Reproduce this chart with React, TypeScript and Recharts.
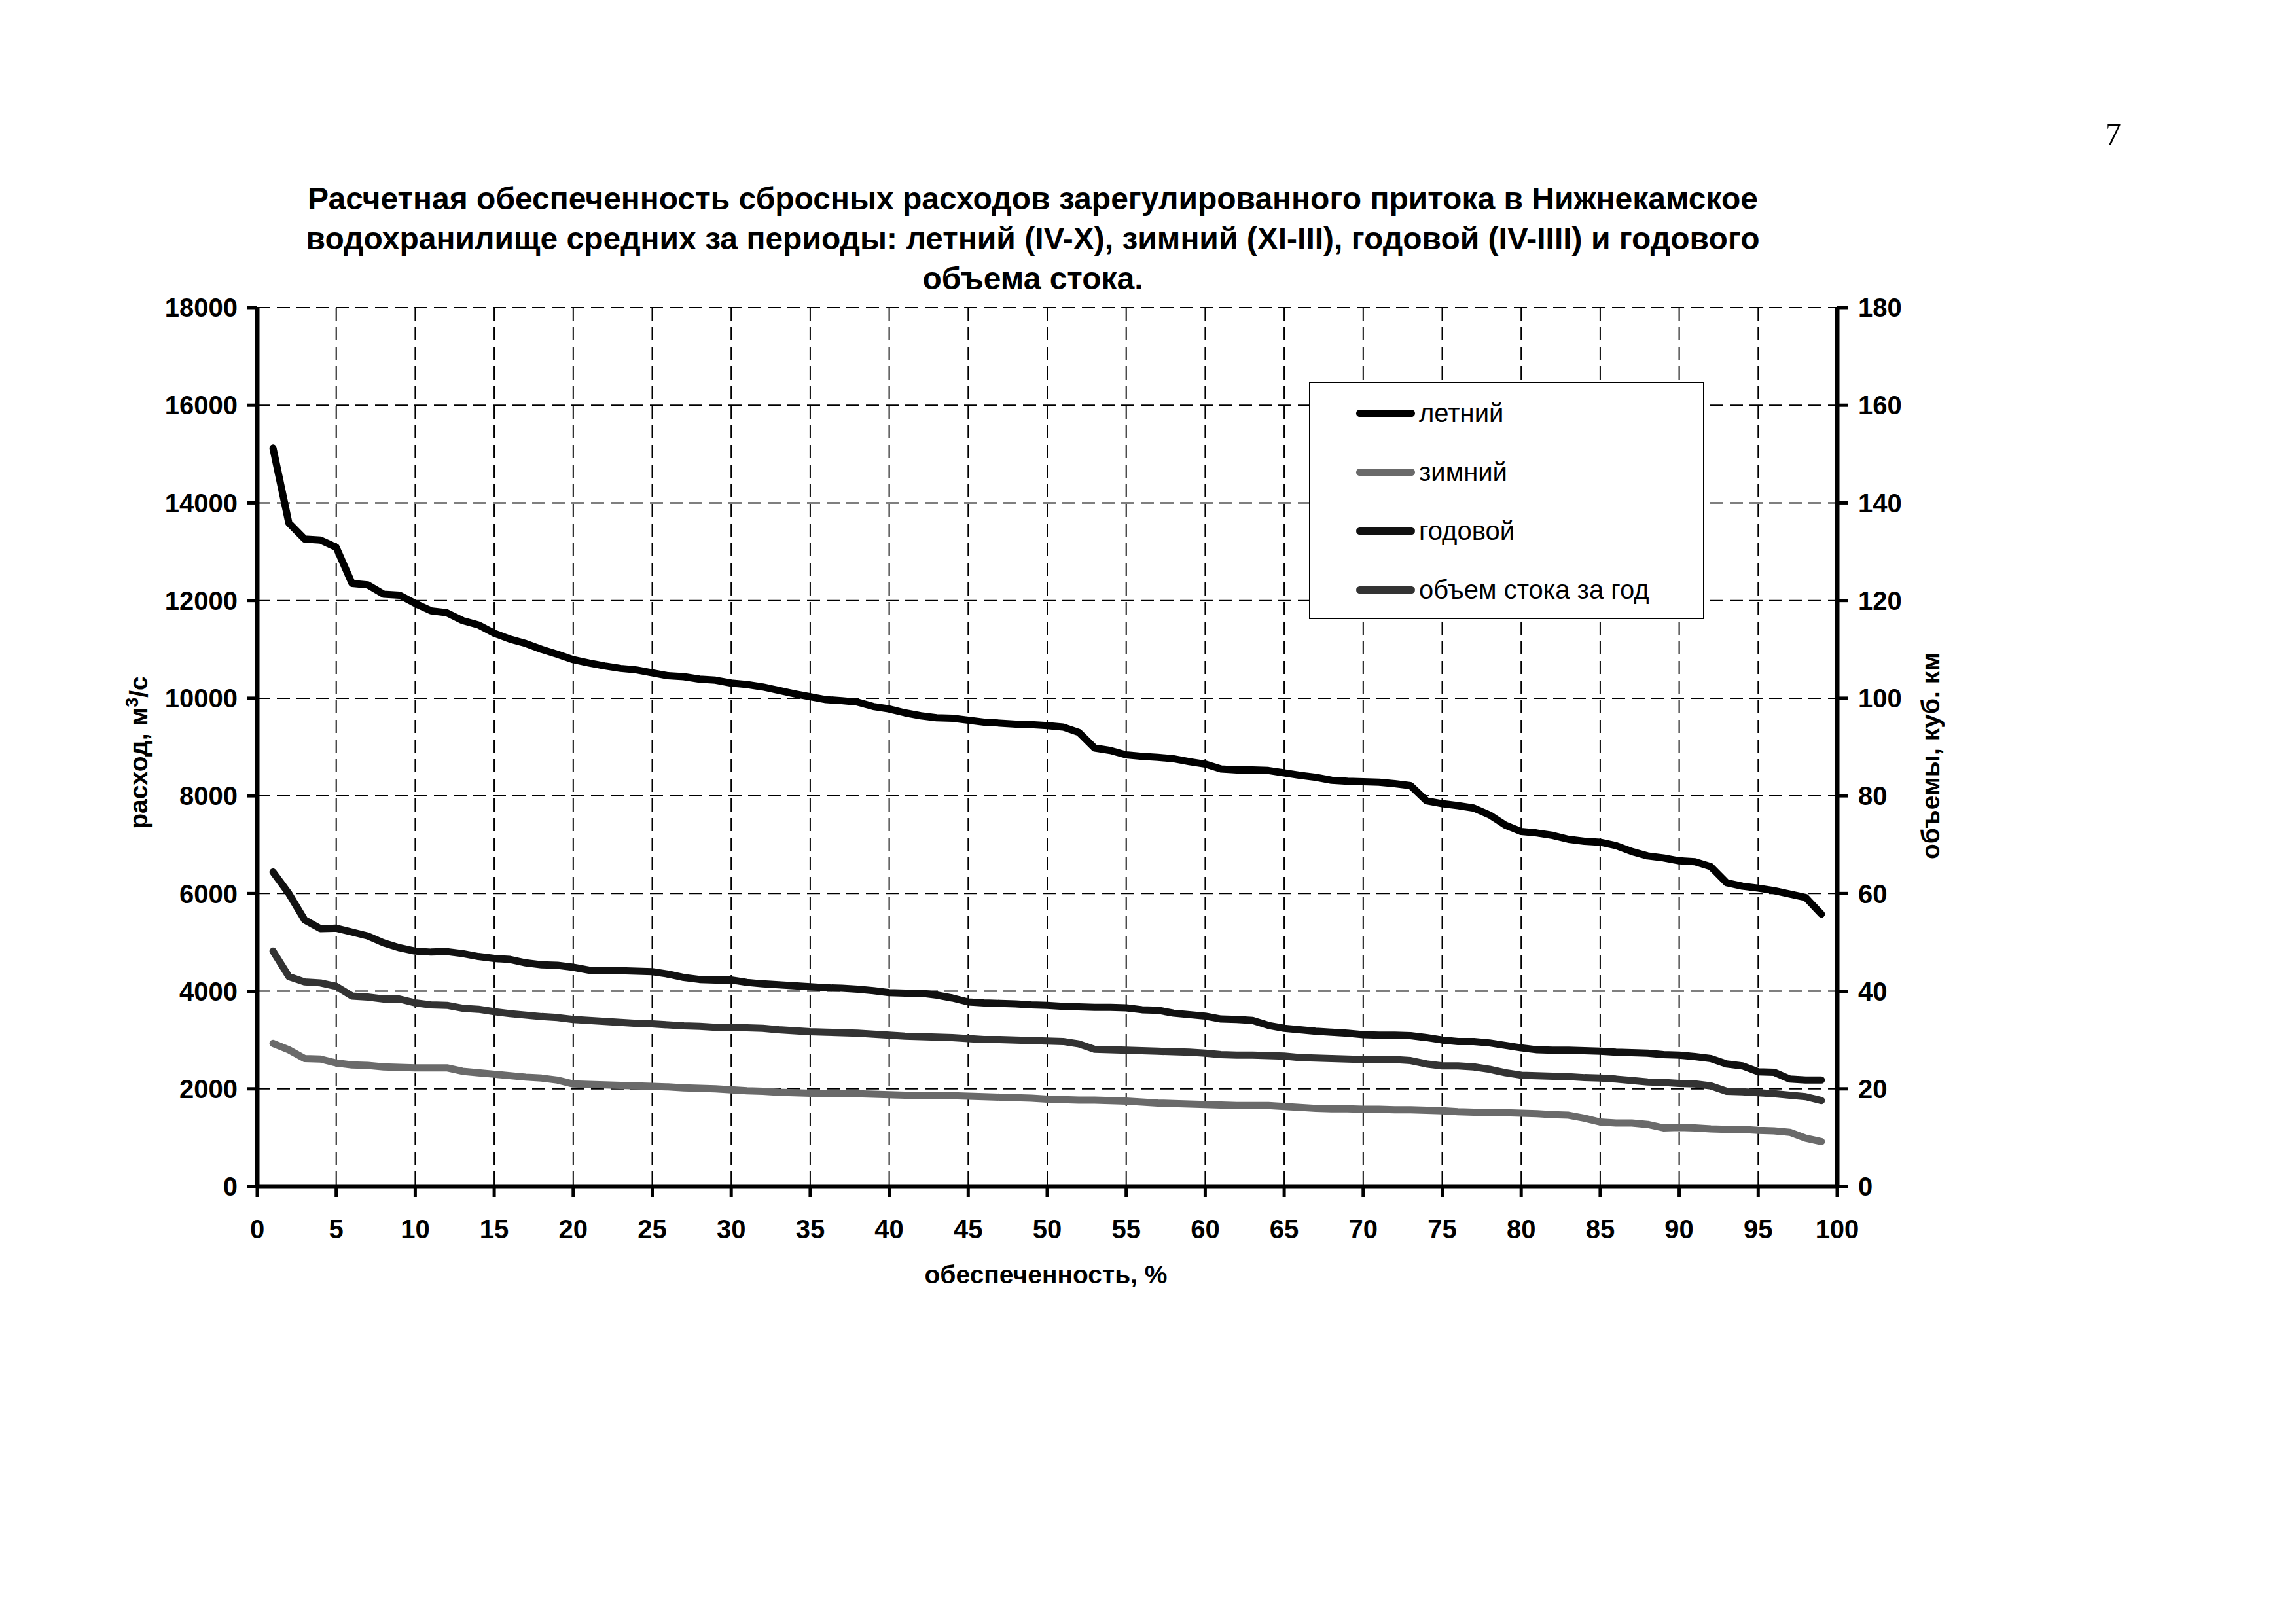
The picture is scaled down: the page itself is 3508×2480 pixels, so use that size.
import { LineChart, Line, XAxis, YAxis, CartesianGrid } from 'recharts'

// обеспеченность, %
const pct = [
  1, 2, 3, 4, 5, 6, 7, 8, 9, 10, 11, 12, 13, 14, 15, 16, 17, 18, 19, 20,
  21, 22, 23, 24, 25, 26, 27, 28, 29, 30, 31, 32, 33, 34, 35, 36, 37, 38, 39, 40,
  41, 42, 43, 44, 45, 46, 47, 48, 49, 50, 51, 52, 53, 54, 55, 56, 57, 58, 59, 60,
  61, 62, 63, 64, 65, 66, 67, 68, 69, 70, 71, 72, 73, 74, 75, 76, 77, 78, 79, 80,
  81, 82, 83, 84, 85, 86, 87, 88, 89, 90, 91, 92, 93, 94, 95, 96, 97, 98, 99,
]

// летний (IV-X), м3/с
const summer = [
  15120, 13590, 13260, 13240, 13090, 12350, 12320, 12130, 12110, 11940,
  11790, 11750, 11590, 11500, 11330, 11210, 11120, 11000, 10900, 10790,
  10720, 10660, 10610, 10580, 10520, 10460, 10440, 10390, 10370, 10310,
  10280, 10230, 10160, 10090, 10030, 9970, 9950, 9920, 9830, 9780,
  9700, 9640, 9600, 9590, 9550, 9510, 9490, 9470, 9460, 9440,
  9410, 9300, 8980, 8930, 8840, 8810, 8790, 8760, 8700, 8650,
  8550, 8530, 8530, 8520, 8470, 8420, 8380, 8320, 8300, 8290,
  8280, 8250, 8210, 7900, 7840, 7800, 7750, 7610, 7400, 7270,
  7240, 7190, 7110, 7070, 7050, 6980, 6860, 6770, 6730, 6670,
  6650, 6550, 6220, 6150, 6110, 6060, 5990, 5920, 5580,
]

// зимний (XI-III), м3/с
const winter = [
  2930, 2800, 2620, 2610, 2530, 2490, 2480, 2450, 2440, 2430,
  2430, 2430, 2360, 2330, 2300, 2270, 2240, 2220, 2180, 2100,
  2090, 2080, 2070, 2060, 2050, 2040, 2020, 2010, 2000, 1980,
  1960, 1950, 1930, 1920, 1910, 1910, 1910, 1900, 1890, 1880,
  1870, 1860, 1870, 1860, 1850, 1840, 1830, 1820, 1810, 1790,
  1780, 1770, 1770, 1760, 1750, 1730, 1710, 1700, 1690, 1680,
  1670, 1660, 1660, 1660, 1640, 1620, 1600, 1590, 1590, 1580,
  1580, 1570, 1570, 1560, 1550, 1530, 1520, 1510, 1510, 1500,
  1490, 1470, 1460, 1400, 1320, 1300, 1300, 1270, 1200, 1210,
  1200, 1180, 1170, 1170, 1150, 1140, 1110, 990, 920,
]

// годовой (IV-III), м3/с
const annual = [
  6440, 6000, 5460, 5280, 5290, 5210, 5130, 4990, 4890, 4820,
  4800, 4810, 4770, 4710, 4670, 4650, 4580, 4540, 4530, 4490,
  4430, 4420, 4420, 4410, 4400, 4350, 4280, 4240, 4230, 4230,
  4180, 4150, 4130, 4110, 4090, 4070, 4060, 4040, 4010, 3970,
  3960, 3960, 3920, 3860, 3780, 3760, 3750, 3740, 3720, 3710,
  3690, 3680, 3670, 3670, 3660, 3620, 3610, 3550, 3520, 3490,
  3430, 3420, 3400, 3300, 3240, 3210, 3180, 3160, 3140, 3110,
  3100, 3100, 3090, 3050, 3000, 2970, 2970, 2940, 2890, 2840,
  2800, 2790, 2790, 2780, 2770, 2750, 2740, 2730, 2700, 2690,
  2660, 2620, 2510, 2470, 2350, 2340, 2200, 2180, 2180,
]

// объем стока за год, куб. км (правая ось)
const volume = [
  48.2, 43.0, 41.9, 41.7, 41.0, 39.0, 38.8, 38.4, 38.4, 37.6,
  37.2, 37.1, 36.5, 36.3, 35.8, 35.4, 35.1, 34.8, 34.6, 34.2,
  34.0, 33.8, 33.6, 33.4, 33.3, 33.1, 32.9, 32.8, 32.6, 32.6,
  32.5, 32.4, 32.1, 31.9, 31.7, 31.6, 31.5, 31.4, 31.2, 31.0,
  30.8, 30.7, 30.6, 30.5, 30.3, 30.1, 30.1, 30.0, 29.9, 29.8,
  29.7, 29.2, 28.1, 28.0, 27.9, 27.8, 27.7, 27.6, 27.5, 27.3,
  27.0, 26.9, 26.9, 26.8, 26.7, 26.4, 26.3, 26.2, 26.1, 26.0,
  26.0, 26.0, 25.8, 25.1, 24.7, 24.7, 24.5, 24.0, 23.3, 22.8,
  22.7, 22.6, 22.5, 22.3, 22.2, 22.0, 21.7, 21.4, 21.3, 21.1,
  21.0, 20.6, 19.5, 19.4, 19.2, 19.0, 18.7, 18.4, 17.6,
]

const xTicks = [0, 5, 10, 15, 20, 25, 30, 35, 40, 45, 50, 55, 60, 65, 70, 75, 80, 85, 90, 95, 100]
const leftTicks = [0, 2000, 4000, 6000, 8000, 10000, 12000, 14000, 16000, 18000]
const rightTicks = [0, 20, 40, 60, 80, 100, 120, 140, 160, 180]

const series = [
  { key: 'summer', name: 'летний', color: '#000000', axis: 'left' },
  { key: 'winter', name: 'зимний', color: '#6a6a6a', axis: 'left' },
  { key: 'annual', name: 'годовой', color: '#111111', axis: 'left' },
  { key: 'volume', name: 'объем стока за год', color: '#333333', axis: 'right' },
]

const data = pct.map((p, i) => ({
  pct: p,
  summer: summer[i],
  winter: winter[i],
  annual: annual[i],
  volume: volume[i],
}))

const FONT = '"Liberation Sans", Arial, sans-serif'
const tickStyle = { fill: '#000', fontSize: 40, fontWeight: 'bold', fontFamily: FONT }

export default function App() {
  return (
    <div
      style={{
        position: 'absolute',
        left: 0,
        top: 0,
        width: 3508,
        height: 2480,
        background: '#fff',
        fontFamily: FONT,
        color: '#000',
      }}
    >
      <div
        style={{
          position: 'absolute',
          left: 3216,
          top: 180,
          fontFamily: '"Liberation Serif", "Times New Roman", serif',
          fontSize: 50,
          lineHeight: 1,
        }}
      >
        7
      </div>

      <div
        style={{
          position: 'absolute',
          left: 178,
          top: 273,
          width: 2800,
          textAlign: 'center',
          fontWeight: 'bold',
          fontSize: 48,
          lineHeight: '61px',
          whiteSpace: 'nowrap',
        }}
      >
        Расчетная обеспеченность сбросных расходов зарегулированного притока в Нижнекамское
        <br />
        водохранилище средних за периоды: летний (IV-X), зимний (XI-III), годовой (IV-IIII) и годового
        <br />
        объема стока.
      </div>

      <LineChart
        width={3508}
        height={2480}
        data={data}
        margin={{ top: 470, right: 601, bottom: 607, left: 293 }}
      >
        <CartesianGrid
          yAxisId="left"
          stroke="#000"
          strokeWidth={2}
          strokeDasharray="20 10"
        />
        <XAxis
          dataKey="pct"
          type="number"
          domain={[0, 100]}
          ticks={xTicks}
          height={60}
          tick={tickStyle}
          tickSize={16}
          tickMargin={35}
          axisLine={{ stroke: '#000', strokeWidth: 7 }}
          tickLine={{ stroke: '#000', strokeWidth: 5 }}
        />
        <YAxis
          yAxisId="left"
          domain={[0, 18000]}
          ticks={leftTicks}
          width={100}
          tick={tickStyle}
          tickSize={16}
          tickMargin={14}
          axisLine={{ stroke: '#000', strokeWidth: 7 }}
          tickLine={{ stroke: '#000', strokeWidth: 5 }}
        />
        <YAxis
          yAxisId="right"
          orientation="right"
          domain={[0, 180]}
          ticks={rightTicks}
          width={100}
          tick={tickStyle}
          tickSize={16}
          tickMargin={16}
          axisLine={{ stroke: '#000', strokeWidth: 7 }}
          tickLine={{ stroke: '#000', strokeWidth: 5 }}
        />
        {series.map((s) => (
          <Line
            key={s.key}
            yAxisId={s.axis}
            type="linear"
            dataKey={s.key}
            name={s.name}
            stroke={s.color}
            strokeWidth={11}
            strokeLinejoin="round"
            strokeLinecap="round"
            dot={false}
            isAnimationActive={false}
          />
        ))}
      </LineChart>

      {/* легенда */}
      <div
        style={{
          position: 'absolute',
          left: 2000,
          top: 584,
          width: 604,
          height: 362,
          boxSizing: 'border-box',
          border: '2px solid #000',
          background: '#fff',
        }}
      >
        {series.map((s) => (
          <div
            key={s.key}
            style={{ height: 90, display: 'flex', alignItems: 'center', paddingLeft: 70 }}
          >
            <div
              style={{ width: 90, height: 11, borderRadius: 6, background: s.color, marginRight: 6 }}
            />
            <span style={{ fontSize: 40, whiteSpace: 'nowrap' }}>{s.name}</span>
          </div>
        ))}
      </div>

      <div
        style={{
          position: 'absolute',
          left: 210,
          top: 1150,
          transform: 'translate(-50%, -50%) rotate(-90deg)',
          fontWeight: 'bold',
          fontSize: 39,
          whiteSpace: 'nowrap',
        }}
      >
        расход, м<sup style={{ fontSize: 27 }}>3</sup>/с
      </div>

      <div
        style={{
          position: 'absolute',
          left: 2950,
          top: 1155,
          transform: 'translate(-50%, -50%) rotate(-90deg)',
          fontWeight: 'bold',
          fontSize: 39,
          whiteSpace: 'nowrap',
        }}
      >
        объемы, куб. км
      </div>

      <div
        style={{
          position: 'absolute',
          left: 1598,
          top: 1948,
          transform: 'translate(-50%, -50%)',
          fontWeight: 'bold',
          fontSize: 39,
          whiteSpace: 'nowrap',
        }}
      >
        обеспеченность, %
      </div>
    </div>
  )
}
